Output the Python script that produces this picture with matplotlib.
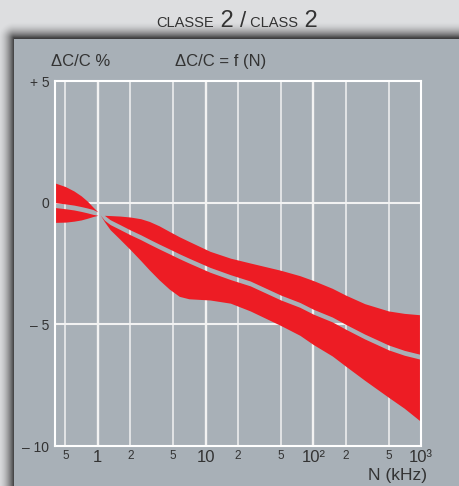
import numpy as np
import matplotlib.pyplot as plt
from matplotlib.patches import Rectangle
from matplotlib.ticker import NullLocator

# tolerance band of capacitance change vs frequency (kHz)
freq = [0.4, 0.5, 0.6, 0.7, 0.8, 0.9, 1.0, 1.05, 1.15, 1.3, 1.6, 2, 2.5, 3, 3.7,
        4.6, 5.7, 7, 11, 17, 26, 50, 75, 100, 150, 200, 300, 500, 700, 1000]
upper_top = [0.81, 0.66, 0.48, 0.28, 0.06, -0.18, -0.38, -0.5, -0.52, -0.53,
             -0.55, -0.59, -0.66, -0.77, -0.95, -1.18, -1.4, -1.59, -2.0, -2.28,
             -2.48, -2.78, -3.0, -3.2, -3.52, -3.8, -4.15, -4.45, -4.55, -4.61]
gap_mid = [-0.1, -0.15, -0.2, -0.26, -0.32, -0.38, -0.44, -0.5, -0.62, -0.8,
           -1.0, -1.22, -1.42, -1.6, -1.8, -2.0, -2.2, -2.38, -2.76, -3.06,
           -3.32, -3.9, -4.2, -4.48, -4.8, -5.1, -5.5, -5.95, -6.17, -6.34]
lower_bot = [-0.81, -0.8, -0.76, -0.71, -0.64, -0.57, -0.52, -0.5, -0.78, -1.11,
             -1.5, -1.93, -2.38, -2.76, -3.17, -3.55, -3.85, -3.95, -4.0, -4.13,
             -4.45, -5.05, -5.45, -5.83, -6.3, -6.72, -7.3, -8.0, -8.45, -9.0]

xtick_pos = [0.5, 1, 2, 5, 10, 20, 50, 100, 200, 500, 1000]
xtick_txt = ['5', '1', '2', '5', '10', '2', '5', '10²', '2', '5', '10³']
ytick_pos = [5, 0, -5, -10]
ytick_txt = ['+ 5', '0', '– 5', '– 10']

plt.rcParams['font.family'] = ['Liberation Sans', 'DejaVu Sans']

W, H = 459, 486
page = '#dddee0'
panel = '#a8b0b7'
red = '#ed1c24'
ink = '#333333'

fig = plt.figure(figsize=(W / 100, H / 100), dpi=100, facecolor=page)

# background layer in pixel units: drop shadow + grey panel
bg = fig.add_axes([0, 0, 1, 1])
yy, xx = np.mgrid[0:H, 0:W] + 0.5
d = np.hypot(np.clip(14 - xx, 0, None), np.clip(39 - yy, 0, None))
shade = np.zeros((H, W, 4))
shade[..., 3] = np.clip(1 - d / 17, 0, 1) ** 2 * 0.72
bg.imshow(shade, extent=(0, W, H, 0), aspect='auto', interpolation='bilinear')
bg.add_patch(Rectangle((14, 39), W - 14, H - 39, color=panel, lw=0))
bg.set_xlim(0, W)
bg.set_ylim(H, 0)
bg.axis('off')


def put_row(pieces, x0, y):
    # lay out text pieces left to right on a common baseline
    r = fig.canvas.get_renderer()
    x = x0
    items = []
    for s, size in pieces:
        t = bg.text(x, y, s, fontsize=size, color=ink, va='baseline', ha='left')
        items.append(t)
        x += t.get_window_extent(r).width
    return items, x - x0


title = [('CLASSE', 10.5), (' 2 ', 17), ('/', 16), (' CLASS', 10.5), (' 2', 17)]
items, wid = put_row(title, 0, 27)
for t in items:
    t.set_x(t.get_position()[0] + 237 - wid / 2)

bg.text(51, 66, 'ΔC/C %', fontsize=12, color=ink, ha='left', va='baseline')
bg.text(175, 66, 'ΔC/C = f (N)', fontsize=12, color=ink, ha='left', va='baseline')
bg.text(427, 480, 'N (kHz)', fontsize=12.5, color=ink, ha='right', va='baseline')

ax = fig.add_axes([55 / W, 1 - 446 / H, (421 - 55) / W, (446 - 81) / H])
ax.set_facecolor('none')
ax.set_xscale('log')
ax.set_xlim(0.4, 1000)
ax.set_ylim(-10, 5)

for x in xtick_pos:
    ax.axvline(x, color='#f2f2f2', lw=1.7 if x in (1, 10, 100) else 1.1, zorder=1)
for y in (0, -5):
    ax.axhline(y, color='#f2f2f2', lw=1.5, zorder=1)

# two red bands separated by a narrow grey gap
half = 0.1
mid = np.array(gap_mid)
up = np.array(upper_top)
lo = np.array(lower_bot)
ax.fill_between(freq, up, np.minimum(mid + half, up), color=red, lw=0, zorder=2)
ax.fill_between(freq, np.maximum(mid - half, lo), lo, color=red, lw=0, zorder=2)

for s in ax.spines.values():
    s.set_color('white')
    s.set_linewidth(1.5)
    s.set_zorder(3)

ax.set_xticks(xtick_pos, xtick_txt)
ax.xaxis.set_minor_locator(NullLocator())
ax.set_yticks(ytick_pos, ytick_txt)
ax.tick_params(length=0, labelcolor=ink)
ax.tick_params(axis='x', pad=3)
ax.tick_params(axis='y', pad=4, labelsize=10)
for lab, x in zip(ax.get_xticklabels(), xtick_pos):
    lab.set_fontsize(12 if x in (1, 10, 100, 1000) else 8.5)

fig.savefig('out.png', dpi=100, facecolor=page)
